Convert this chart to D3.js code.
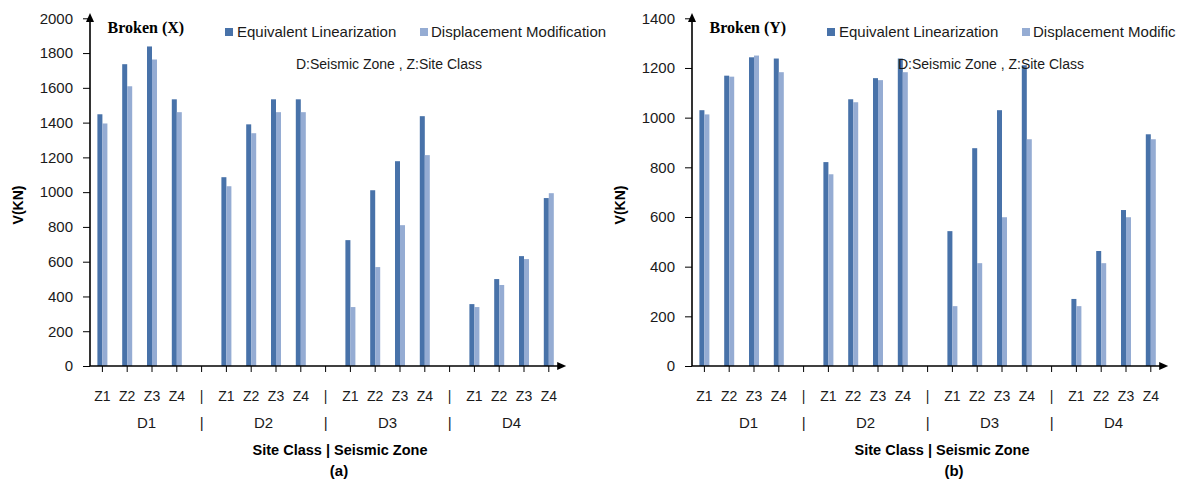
<!DOCTYPE html>
<html>
<head>
<meta charset="utf-8">
<script src="https://cdn.jsdelivr.net/npm/d3@7"></script>
<style>
  body { margin: 0; background: #fff; }
  svg { display: block; font-family: "Liberation Sans", Arial, sans-serif; }
  .tick line { stroke: #000; }
  .tick text { fill: #1a1a1a; }
</style>
</head>
<body>
<script>
// categories
var zones = ["D1", "D2", "D3", "D4"];
var sites = ["Z1", "Z2", "Z3", "Z4"];
var seriesNames = ["Equivalent Linearization", "Displacement Modification"];

// Broken (X), ordered D1 Z1..Z4, D2 Z1..Z4, ...
var brokenXEquivalent = [1448, 1736, 1838, 1534, 1086, 1390, 1534, 1534, 724, 1011, 1178, 1437, 356, 500, 632, 966];
var brokenXDisplacement = [1395, 1609, 1763, 1460, 1034, 1339, 1460, 1460, 339, 569, 810, 1213, 339, 466, 615, 994];

// Broken (Y)
var brokenYEquivalent = [1030, 1169, 1243, 1238, 821, 1074, 1159, 1238, 543, 877, 1030, 1211, 270, 463, 628, 933];
var brokenYDisplacement = [1013, 1165, 1250, 1183, 772, 1062, 1151, 1183, 241, 414, 599, 913, 241, 414, 599, 913];

// tick labels
var ticksX = [0, 200, 400, 600, 800, 1000, 1200, 1400, 1600, 1800, 2000];
var ticksY = [0, 200, 400, 600, 800, 1000, 1200, 1400];

var colors = ["#4872a9", "#95acd3"];

var svg = d3.select("body").append("svg").attr("width", 1185).attr("height", 480);

// slots: 4 sites per zone, empty slot between zones
var slots = [];
zones.forEach(function(z, i) {
  sites.forEach(function(s) { slots.push(z + " " + s); });
  if (i < zones.length - 1) slots.push("gap" + i);
});

function drawPanel(opt) {
  var x0 = opt.x0, x1 = opt.x0 + 471.2;
  var top = 18.3, bottom = 366;
  var g = svg.append("g");

  var xScale = d3.scaleBand().domain(slots).range([x0, x1]).padding(0);
  var sub = d3.scaleBand().domain([0, 1]).range([-5, 5]);
  var yScale = d3.scaleLinear().domain([0, opt.max]).range([bottom, top]);

  var rows = [];
  zones.forEach(function(z, zi) {
    sites.forEach(function(s, si) {
      var k = zi * 4 + si;
      rows.push({key: z + " " + s, values: [opt.equiv[k], opt.disp[k]]});
    });
  });

  //bars
  var groups = g.selectAll(".cat")
    .data(rows)
    .enter()
    .append("g")
    .attr("transform", function(d) {
      return "translate(" + (xScale(d.key) + xScale.bandwidth() / 2) + ",0)";
    });

  groups.selectAll("rect")
    .data(function(d) { return d.values; })
    .enter()
    .append("rect")
    .attr("x", function(d, i) { return sub(i); })
    .attr("width", sub.bandwidth())
    .attr("y", function(d) { return yScale(d); })
    .attr("height", function(d) { return bottom - yScale(d); })
    .attr("fill", function(d, i) { return colors[i]; });

  //Y axis ticks + labels
  var yAxis = d3.axisLeft(yScale).tickValues(opt.ticks).tickSize(7).tickPadding(10).tickFormat(d3.format("d"));
  var ya = g.append("g").attr("transform", "translate(" + x0 + ",0)").call(yAxis);
  ya.select(".domain").remove();
  ya.selectAll("text").style("font-size", "15px").style("font-family", "Liberation Sans, Arial, sans-serif");

  //X axis ticks
  var xAxis = d3.axisBottom(xScale).tickSize(6).tickFormat("");
  var xa = g.append("g").attr("transform", "translate(0," + bottom + ")").call(xAxis);
  xa.select(".domain").remove();

  // axis lines with arrows
  g.append("line").attr("x1", x0).attr("x2", x0).attr("y1", bottom).attr("y2", 20)
    .attr("stroke", "#000").attr("stroke-width", 1.6);
  g.append("path").attr("d", "M" + x0 + ",13 L" + (x0 - 4) + ",22 L" + (x0 + 4) + ",22 Z").attr("fill", "#000");
  g.append("line").attr("x1", x0).attr("x2", x1).attr("y1", bottom).attr("y2", bottom)
    .attr("stroke", "#000").attr("stroke-width", 1.6);
  g.append("path").attr("d", "M" + (x1 + 5) + "," + bottom + " L" + (x1 - 4) + "," + (bottom - 4) + " L" + (x1 - 4) + "," + (bottom + 4) + " Z").attr("fill", "#000");

  // category labels
  g.selectAll(".zlab")
    .data(slots)
    .enter()
    .append("text")
    .attr("x", function(d) { return xScale(d) + xScale.bandwidth() / 2; })
    .attr("y", 401)
    .attr("text-anchor", "middle")
    .style("font-size", "14px")
    .attr("fill", "#1a1a1a")
    .text(function(d) { return d.indexOf("gap") == 0 ? "|" : d.split(" ")[1]; });

  g.selectAll(".dlab")
    .data(zones)
    .enter()
    .append("text")
    .attr("x", function(d, i) {
      var a = xScale(d + " Z2") + xScale.bandwidth();
      return a + (i == 0 ? 7 : 0);
    })
    .attr("y", 428)
    .attr("text-anchor", "middle")
    .style("font-size", "15px")
    .attr("fill", "#1a1a1a")
    .text(function(d) { return d; });

  g.selectAll(".dsep")
    .data(slots.filter(function(d) { return d.indexOf("gap") == 0; }))
    .enter()
    .append("text")
    .attr("x", function(d) { return xScale(d) + xScale.bandwidth() / 2; })
    .attr("y", 428)
    .attr("text-anchor", "middle")
    .style("font-size", "15px")
    .attr("fill", "#1a1a1a")
    .text("|");

  g.append("text")
    .attr("x", x0 + 250)
    .attr("y", 455)
    .attr("text-anchor", "middle")
    .style("font-size", "14.5px")
    .style("font-weight", "bold")
    .text("Site Class | Seismic Zone");

  g.append("text")
    .attr("x", x0 + opt.letterShift)
    .attr("y", 476)
    .attr("text-anchor", "middle")
    .style("font-size", "15px")
    .style("font-weight", "bold")
    .text(opt.letter);

  g.append("text")
    .attr("transform", "translate(" + (opt.x0 - 72) + ",205) rotate(-90)")
    .attr("text-anchor", "middle")
    .attr("dy", "0.35em")
    .style("font-size", "14px")
    .style("font-weight", "bold")
    .text("V(KN)");

  g.append("text")
    .attr("x", x0 + 17.5)
    .attr("y", 33)
    .style("font-family", "Liberation Serif, Times New Roman, serif")
    .style("font-size", "16px")
    .style("font-weight", "bold")
    .text(opt.title);

  // legend (the right one runs off the page edge, so it's cut short like the original)
  var legX = [[135, 147], [330, 341]];
  seriesNames.forEach(function(name, i) {
    g.append("rect").attr("x", x0 + legX[i][0]).attr("y", 28).attr("width", 8).attr("height", 8).attr("fill", colors[i]);
    var t = g.append("text").attr("x", x0 + legX[i][1]).attr("y", 36.5)
      .style("font-size", "15px").attr("fill", "#1a1a1a").text(name);
    if (opt.edge) {
      var s = name;
      while (s.length > 1 && x0 + legX[i][1] + t.node().getComputedTextLength() > opt.edge) {
        s = s.slice(0, -1);
        t.text(s);
      }
    }
  });

  g.append("text")
    .attr("x", x0 + 206)
    .attr("y", 69)
    .style("font-size", "14px")
    .attr("fill", "#1a1a1a")
    .text("D:Seismic Zone , Z:Site Class");
}

drawPanel({x0: 90, max: 2000, ticks: ticksX, equiv: brokenXEquivalent, disp: brokenXDisplacement,
  title: "Broken (X)", letter: "(a)", letterShift: 249});
drawPanel({x0: 692, max: 1400, ticks: ticksY, equiv: brokenYEquivalent, disp: brokenYDisplacement,
  title: "Broken (Y)", letter: "(b)", letterShift: 262, edge: 1180});
</script>
</body>
</html>
